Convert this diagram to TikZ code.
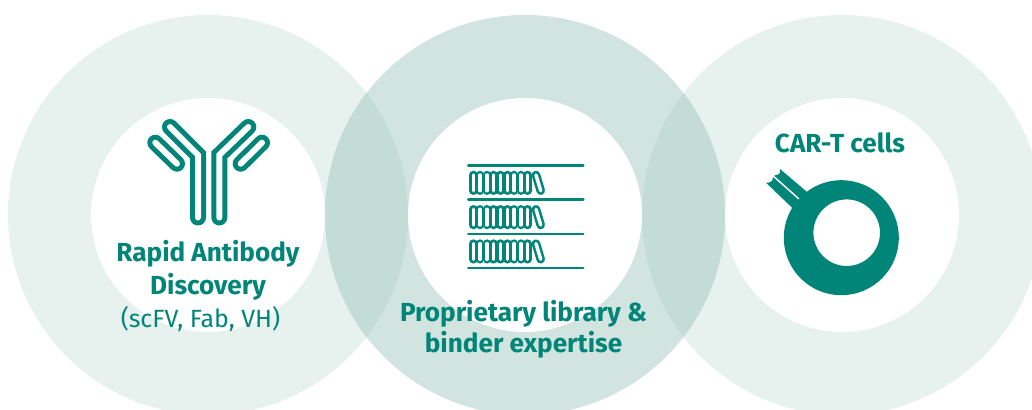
\documentclass[tikz,border=0pt]{standalone}
\usepackage{fontspec}
\setmainfont{Fira Sans}
\usepackage{xcolor}
\definecolor{carteal}{RGB}{0, 133, 120}
\definecolor{sidedisc}{RGB}{231, 241, 238}
\definecolor{middisc}{RGB}{209, 228, 223}
\definecolor{overlapdisc}{RGB}{196, 220, 214}
\tikzset{
    holedisc/.style={fill=white},
    chain/.style={draw=carteal, line width=3.75, double=white, double distance=4.5, line cap=round, miter limit=10},
    coil/.style={draw=carteal, line width=1.9, double=white, double distance=2.6, line cap=round},
    rail/.style={draw=carteal, line width=1.9, line cap=round},
    headline/.style={text=carteal, font=\fontsize{19.6}{19.6}\selectfont\bfseries, inner sep=0pt},
    subline/.style={text=carteal, font=\fontsize{18.7}{18.7}\selectfont, inner sep=0pt}
}
\begin{document}
\begin{tikzpicture}[x=0.75pt, y=-0.75pt]
    \useasboundingbox (0,0) rectangle (1032,410);
    \clip (0,0) rectangle (1032,410);

    % Large discs
    \fill[sidedisc] (208,215) circle[radius=200*0.75pt];
    \fill[sidedisc] (842,215) circle[radius=200*0.75pt];
    \fill[middisc] (525,215) circle[radius=200*0.75pt];

    % Overlaps
    \begin{scope}
        \clip (525,215) circle[radius=200*0.75pt];
        \fill[overlapdisc] (208,215) circle[radius=200*0.75pt];
        \fill[overlapdisc] (842,215) circle[radius=200*0.75pt];
    \end{scope}

    % White centres
    \fill[holedisc] (208,215) circle[radius=117*0.75pt];
    \fill[holedisc] (525,215) circle[radius=117*0.75pt];
    \fill[holedisc] (842,215) circle[radius=117*0.75pt];

    % Antibody
    \draw[chain] (155.3,142.7) -- (177,163.7);
    \draw[chain] (262,142.7) -- (240.7,163.7);
    \draw[chain] (170,127) -- (198,155) -- (198,217.5);
    \draw[chain] (248.3,127) -- (219.3,155) -- (219.3,217.5);

    % Library
    \foreach \rowy in {165.3,199.6,233.9,268.2}
        \draw[rail] (468.3,\rowy) -- (583.3,\rowy);
    \foreach \rowy in {165.3,199.6,233.9} {
        \foreach \i in {0,...,8}
            \draw[coil] (473.3+6.8*\i,\rowy+9.7) -- (473.3+6.8*\i,\rowy+25.4);
        \draw[coil] (536,\rowy+9.7) -- (540.7,\rowy+25.4);
    }

    % CAR-T cell
    \fill[carteal] (806.7,191.7) -- (780,169) .. controls (781,173) and (779,175) .. (775,175.3) -- (772.7,178.3) .. controls (773,181) and (770,183) .. (766,182.7) -- (792.7,208.3) -- cycle;
    \draw[white, line width=1.1] (774,176.7) -- (799.3,199.3);
    \fill[carteal, even odd rule] (841.3,237.7) circle[radius=57.5*0.75pt] (846.7,232.7) circle[radius=33.3*0.75pt];

    % Labels
    \node[headline] (antibodytitle) at (208,253.5) {Rapid Antibody};
    \node[headline] (antibodyname) at (208,286.5) {Discovery};
    \node[subline] (antibodyformats) at (200.5,319.5) {(scFV, Fab, VH)};
    \node[headline] (librarytitle) at (523.5,313.5) {Proprietary library \&};
    \node[headline] (libraryname) at (523.5,345) {binder expertise};
    \node[headline] (carttitle) at (840,142.5) {CAR-T cells};
\end{tikzpicture}
\end{document}
